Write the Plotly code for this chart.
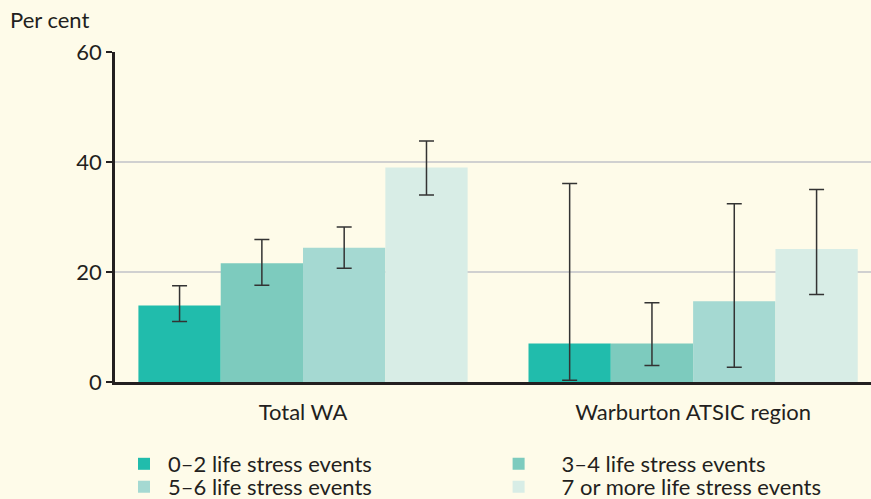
import plotly.graph_objects as go

categories = ["Total WA", "Warburton ATSIC region"]
series_names = ["0–2 life stress events", "3–4 life stress events",
                "5–6 life stress events", "7 or more life stress events"]
values = [
    [13.9, 7.0],
    [21.6, 7.0],
    [24.4, 14.7],
    [39.0, 24.2],
]
err_upper = [
    [17.5, 36.1],
    [25.9, 14.4],
    [28.2, 32.4],
    [43.8, 35.0],
]
err_lower = [
    [11.0, 0.3],
    [17.6, 3.0],
    [20.7, 2.7],
    [34.0, 15.9],
]
y_ticks = [0, 20, 40, 60]

colors = ["#21BCAC", "#7DCBBE", "#A5D9D2", "#D8EDE6"]
legend_ids = ["legend", "legend2", "legend3", "legend4"]
FONT = "Lato"
FS = 22
BG = "#FEFBE9"

fig = go.Figure()
for i, name in enumerate(series_names):
    v = values[i]
    fig.add_trace(go.Bar(
        x=categories, y=v, name=name,
        marker=dict(color=colors[i], line=dict(width=0)),
        error_y=dict(
            type="data", symmetric=False,
            array=[u - a for u, a in zip(err_upper[i], v)],
            arrayminus=[a - l for l, a in zip(err_lower[i], v)],
            color="#333333", thickness=1.5, width=7.5,
        ),
        legend=legend_ids[i],
    ))

def leg(x, y, w):
    return dict(xref="paper", yref="paper", x=x, y=y,
                xanchor="left", yanchor="middle", orientation="h",
                bgcolor="rgba(0,0,0,0)", font=dict(size=FS), itemwidth=w)

row1, row2 = -0.2485, -0.318
col1, col2 = 0.0066, 0.477

fig.update_layout(
    width=871, height=499,
    paper_bgcolor=BG, plot_bgcolor=BG,
    margin=dict(l=115, r=0, t=52, b=117, autoexpand=False),
    barmode="group", bargap=0.156, bargroupgap=0,
    font=dict(family=FONT, size=FS, color="#231F20"),
    showlegend=True,
    legend=leg(col1, row1, 38),
    legend2=leg(col2, row1, 76),
    legend3=leg(col1, row2, 38),
    legend4=leg(col2, row2, 76),
    xaxis=dict(
        range=[-0.482, 1.456], showgrid=False, ticks="",
        showline=True, linecolor="#231F20", linewidth=3,
        ticklabelstandoff=9, tickfont=dict(size=FS), tickangle=0,
        automargin=False,
    ),
    yaxis=dict(
        range=[0, 60], tickvals=y_ticks, ticks="outside", ticklen=6,
        tickcolor="#231F20", tickwidth=1.5,
        showline=True, linecolor="#231F20", linewidth=2.5,
        showgrid=True, gridcolor="#D0D0D0", gridwidth=1.5,
        zeroline=False, tickfont=dict(size=FS), automargin=False,
    ),
    annotations=[dict(text="Per cent", xref="paper", yref="paper",
                      x=-0.1415, y=1.097, xanchor="left", yanchor="middle",
                      showarrow=False, font=dict(size=FS))],
)

fig.write_html("out.html", config={"displayModeBar": False},
               post_script="document.body.style.margin='0';document.body.style.background='" + BG + "';")
